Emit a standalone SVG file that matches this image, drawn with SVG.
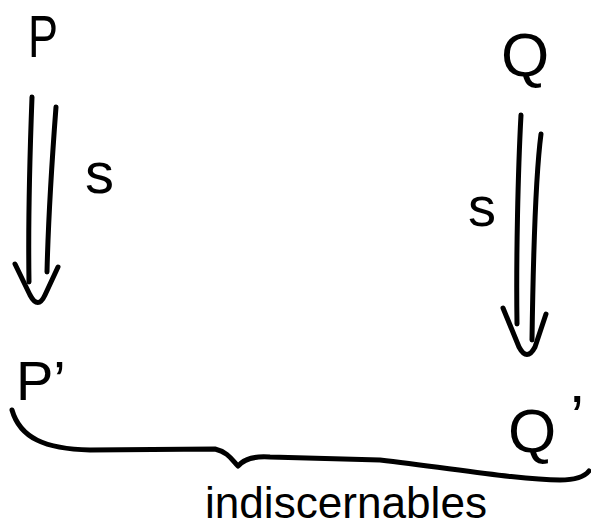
<svg xmlns="http://www.w3.org/2000/svg" width="591" height="529" viewBox="0 0 591 529">
<style>
.ink{fill:none;stroke:#000;stroke-width:5;stroke-linecap:round;stroke-linejoin:round}
.lbl{font-family:"Liberation Sans","DejaVu Sans",sans-serif;fill:#000}
</style>
<rect width="591" height="529" fill="#fff"/>
<g id="connectors">
<g id="arrow-left">
<path class="ink" d="M32,97 C30,150 28,220 29,282"/>
<path class="ink" d="M56,107 C52,160 48,230 47,272"/>
<path class="ink" d="M15,264 L30,295 Q38,310 45,295 L58,267"/>
</g>
<g id="arrow-right">
<path class="ink" d="M521,115 C518,170 516,260 517,324"/>
<path class="ink" d="M541,134 C535,180 533,270 532,340"/>
<path class="ink" d="M503,308 L519,347 Q527,362 535,347 L546,314"/>
</g>
<g id="brace">
<path class="ink" d="M12,410 C20,438 45,449 90,450 L215,449 C228,452 232,460 238,466 C245,458 255,456 270,457 L380,460 C450,468 520,480 560,480 C575,480 585,476 589,471"/>
</g>
</g>
<g id="node-P"><text class="lbl" x="28" y="57" font-size="60" textLength="30" lengthAdjust="spacingAndGlyphs">P</text></g>
<g id="node-Q"><text class="lbl" x="501" y="76" font-size="62">Q</text></g>
<g id="node-P2"><text class="lbl" x="16" y="400" font-size="56">P’</text></g>
<g id="node-Q2"><text class="lbl" x="508" y="452" font-size="62">Q<tspan dx="14" dy="-14">’</tspan></text></g>
<g id="label-s-left"><text class="lbl" x="85" y="193" font-size="58">s</text></g>
<g id="label-s-right"><text class="lbl" x="468" y="226" font-size="56">s</text></g>
<g id="label-indisc"><text class="lbl" x="205" y="518" font-size="44" textLength="282" lengthAdjust="spacingAndGlyphs">indiscernables</text></g>
</svg>
